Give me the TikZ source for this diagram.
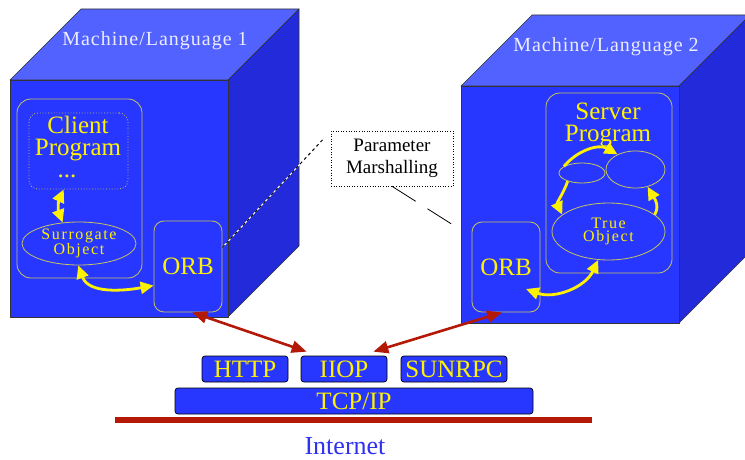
\documentclass[tikz,border=0pt]{standalone}
\usepackage{fontspec}
\setmainfont{Liberation Serif}
\usetikzlibrary{arrows.meta,shapes.geometric}

\definecolor{frontblue}{RGB}{40,55,255}
\definecolor{topblue}{RGB}{82,98,255}
\definecolor{sideblue}{RGB}{34,42,218}
\definecolor{rimolive}{RGB}{196,196,96}
\definecolor{wirered}{RGB}{180,25,8}
\definecolor{netblue}{RGB}{48,48,240}
\definecolor{titlewhite}{RGB}{236,236,255}

\tikzset{
  face/.style={draw=black!80, line width=0.6pt, line join=round},
  area/.style={draw=rimolive, line width=0.8pt, rounded corners=14pt},
  blob/.style={ellipse, draw=rimolive, line width=0.8pt, inner sep=0pt, text=yellow, align=center,
    font=\fontsize{16}{14}\selectfont\addfontfeature{LetterSpace=10}},
  bigtext/.style={text=yellow, align=center, font=\fontsize{25}{22}\selectfont},
  proto/.style={draw=black, line width=0.7pt, fill=frontblue, rounded corners=3pt, text=yellow,
    inner sep=0pt, minimum height=26pt, font=\fontsize{25}{25}\selectfont},
  ylink/.style={draw=yellow, line width=2.8pt, {Triangle[length=13pt,width=12pt]}-{Triangle[length=13pt,width=12pt]}},
  yone/.style={draw=yellow, line width=2.8pt, -{Triangle[length=13pt,width=12pt]}},
  rlink/.style={draw=wirered, line width=2.6pt, {Triangle[length=15pt,width=12pt]}-{Triangle[length=15pt,width=12pt]}},
}

\begin{document}
\begin{tikzpicture}[x=1pt,y=-1pt]
\useasboundingbox (0,0) rectangle (745,460);

% the two machines
\foreach \x/\y/\n in {10/80/1,461/86/2}{
  \filldraw[face,fill=topblue] (\x,\y) -- ++(71,-71) -- ++(218,0) -- ++(-71,71) -- cycle;
  \filldraw[face,fill=sideblue] (\x+218,\y) -- ++(71,-71) -- ++(0,237) -- ++(-71,71) -- cycle;
  \filldraw[face,fill=frontblue] (\x,\y) rectangle ++(218,237);
  \node[text=titlewhite,font=\fontsize{20}{20}\selectfont\addfontfeature{LetterSpace=5}] (title\n) at (\x+145,\y-39) {Machine/Language \n};
}

% client side
\node[area,minimum width=125pt,minimum height=179pt] (clientarea) at (79.5,188.5) {};
\node[draw=rimolive,dotted,line width=0.8pt,rounded corners=9pt,minimum width=99pt,minimum height=76pt] (client) at (78.5,151) {};
\node[bigtext] (clienttext) at (78,138.5) {Client\\Program};
\node[bigtext] (clientdots) at (67,176) {...};
\node[blob,minimum width=114pt,minimum height=43pt] (surrogate) at (79,243.5) {Surrogate\\Object};
\node[area,rounded corners=10pt,minimum width=68pt,minimum height=91pt,bigtext] (orbA) at (188,266.5) {ORB};

% server side
\node[area,minimum width=126pt,minimum height=180pt] (serverarea) at (609,183) {};
\node[bigtext] (servertext) at (608,124.5) {Server\\Program};
\node[blob,minimum width=46pt,minimum height=20pt] (smallobj) at (582,173) {};
\node[blob,minimum width=59pt,minimum height=37pt] (bigobj) at (635.5,169.5) {};
\node[blob,minimum width=113pt,minimum height=57pt,font=\fontsize{16}{13}\selectfont\addfontfeature{LetterSpace=10}] (trueobj) at (608.5,231.5) {True\\Object};
\node[area,rounded corners=10pt,minimum width=68pt,minimum height=90pt,bigtext] (orbB) at (506,267) {ORB};

% yellow links
\draw[ylink] (surrogate.128) to[out=110,in=-115] (client.-111);
\draw[ylink] (surrogate.-92) to[out=-70,in=190] (orbA.-151);
\draw[yone] (smallobj.160) to[out=50,in=150] (bigobj.140);
\draw[yone] (smallobj.-150) to[out=-110,in=115] (trueobj.160);
\draw[yone] (trueobj.20) to[out=60,in=-60] (bigobj.-55);
\draw[ylink] (trueobj.-110) to[out=-115,in=-20] ([shift={(20,22)}]orbB.center);

% marshalling note
\node[draw,dotted,line width=0.6pt,minimum width=122pt,minimum height=55pt,align=center,
  font=\fontsize{19}{22}\selectfont] (marshal) at (392,158.5) {Parameter\\Marshalling};
\coordinate (cubeB) at (461,230);
\draw[white,line width=1pt] (orbA.29) -- ([shift={(-8,9)}]marshal.north west);
\draw[black,line width=1pt,dashed] (orbA.29) -- ([shift={(-8,9)}]marshal.north west);
\draw[black,line width=0.8pt,dash pattern=on 28pt off 14pt] (marshal.south) -- (cubeB);

% protocols
\node[proto,minimum width=86pt] (http) at (245,369) {HTTP};
\node[proto,minimum width=86pt] (iiop) at (344,369) {IIOP};
\node[proto,minimum width=106pt] (sunrpc) at (454,369) {SUNRPC};
\node[proto,minimum width=358pt] (tcpip) at (354,401) {TCP/IP};
\draw[rlink] (orbA.-85) -- ([shift={(6,-4)}]iiop.north west);
\draw[rlink] (orbB.-95) -- ([shift={(-14,-4)}]iiop.north east);

% the wire
\draw[wirered,line width=6pt] (115,420) -- (592,420);
\node[text=netblue,font=\fontsize{26}{26}\selectfont] (internet) at (345,446) {Internet};
\end{tikzpicture}
\end{document}
